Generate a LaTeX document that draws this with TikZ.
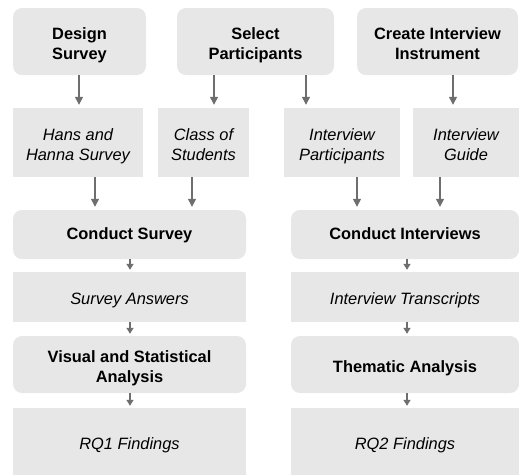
\documentclass[tikz,border=0pt]{standalone}
\usepackage{fontspec}
\setmainfont{Liberation Sans}
\usetikzlibrary{arrows.meta}
\definecolor{boxgray}{HTML}{E7E7E7}
\definecolor{arrowgray}{HTML}{6E6E6E}
% text set with a tall first line and a strut on the last, so it sits a little low
\newcommand{\lowtext}[2][21.6pt]{\rule{0pt}{#1}#2\strut}
\tikzset{
  basebox/.style={fill=boxgray, draw=none, align=center, inner sep=0pt},
  taskbox/.style={basebox, rounded corners=9pt, font=\fontsize{16.4}{19.3}\selectfont\bfseries},
  itembox/.style={basebox, font=\fontsize{16.4}{19.3}\selectfont\itshape},
  arr/.style={draw=arrowgray, line width=1.3pt, shorten >=3pt,
    -{Triangle[width=8pt,length=8pt]}, color=arrowgray},
  sarr/.style={draw=arrowgray, line width=1.3pt, shorten >=2pt,
    -{Triangle[width=7pt,length=6pt]}, color=arrowgray}
}
\newcommand{\boxat}[6]{% style, name, x0, y0, x1, y1
  \node[#1, minimum width={(#5-#3)*1pt}, minimum height={(#6-#4)*1pt}]
    (#2) at ({(#3+#5)/2},{(#4+#6)/2})}
\begin{document}
\begin{tikzpicture}[x=1pt,y=-1pt]
\useasboundingbox (0,0) rectangle (519,475);

% planning steps
\boxat{taskbox}{design}{13}{8}{146}{75} {\lowtext{Design\\Survey}};
\boxat{taskbox}{select}{177}{8}{334}{75} {\lowtext{Select\\Participants}};
\boxat{taskbox}{create}{357}{8}{518}{75} {\lowtext{Create Interview\\Instrument}};

% resulting artefacts
\boxat{itembox}{hans}{13}{108}{143}{177} {\lowtext{Hans and\\Hanna Survey}};
\boxat{itembox}{class}{158}{108}{249}{177} {\lowtext{Class of\\Students}};
\boxat{itembox}{ipart}{284}{108}{400}{177} {\lowtext{Interview\\Participants}};
\boxat{itembox}{guide}{413}{108}{519}{177} {\lowtext{Interview\\Guide}};

% data collection
\boxat{taskbox}{csurvey}{13}{210}{246}{259} {\lowtext[15.5pt]{Conduct Survey}};
\boxat{taskbox}{cinter}{291}{210}{519}{259} {\lowtext[15.5pt]{Conduct Interviews}};

\boxat{itembox}{answers}{13}{272}{246}{322} {\lowtext{Survey Answers}};
\boxat{itembox}{transcripts}{291}{272}{519}{322} {\lowtext{Interview Transcripts}};

% analysis
\boxat{taskbox}{visual}{13}{336}{246}{393} {\lowtext{Visual and Statistical\\Analysis}};
\boxat{taskbox}{thematic}{291}{336}{519}{393} {\lowtext{Thematic Analysis}};

\boxat{itembox}{rqone}{13}{408}{246}{475} {\lowtext{RQ1 Findings}};
\boxat{itembox}{rqtwo}{291}{408}{519}{475} {\lowtext{RQ2 Findings}};

% arrow columns
\coordinate (c1) at (79,0);
\coordinate (c2) at (214,0);
\coordinate (c3) at (306,0);
\coordinate (c4) at (453,0);
\coordinate (c5) at (95,0);
\coordinate (c6) at (192,0);
\coordinate (c7) at (357,0);
\coordinate (c8) at (440,0);
\coordinate (cl) at (130,0);
\coordinate (cr) at (407,0);

\draw[arr] (design.south -| c1) -- (hans.north -| c1);
\draw[arr] (select.south -| c2) -- (class.north -| c2);
\draw[arr] (select.south -| c3) -- (ipart.north -| c3);
\draw[arr] (create.south -| c4) -- (guide.north -| c4);

\draw[arr] (hans.south -| c5) -- (csurvey.north -| c5);
\draw[arr] (class.south -| c6) -- (csurvey.north -| c6);
\draw[arr] (ipart.south -| c7) -- (cinter.north -| c7);
\draw[arr] (guide.south -| c8) -- (cinter.north -| c8);

\draw[sarr] (csurvey.south -| cl) -- (answers.north -| cl);
\draw[sarr] (answers.south -| cl) -- (visual.north -| cl);
\draw[sarr] (visual.south -| cl) -- (rqone.north -| cl);
\draw[sarr] (cinter.south -| cr) -- (transcripts.north -| cr);
\draw[sarr] (transcripts.south -| cr) -- (thematic.north -| cr);
\draw[sarr] (thematic.south -| cr) -- (rqtwo.north -| cr);
\end{tikzpicture}
\end{document}
